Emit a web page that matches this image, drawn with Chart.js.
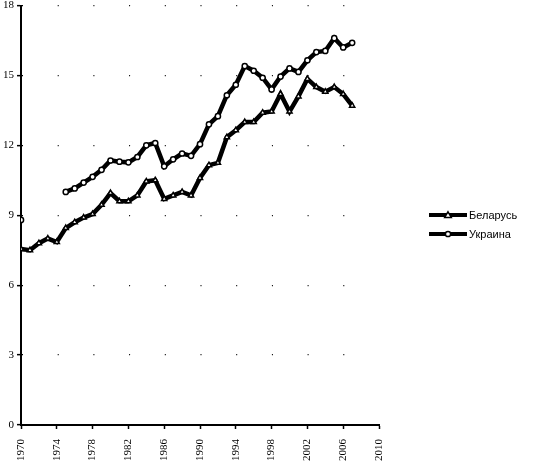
<!DOCTYPE html>
<html>
<head>
<meta charset="utf-8">
<script src="https://cdn.jsdelivr.net/npm/chart.js@4"></script>
<style>
html,body{margin:0;padding:0;background:#fff;}
#wrap{width:533px;height:466px;position:relative;}
</style>
</head>
<body>
<div id="wrap"><canvas id="c" width="533" height="466"></canvas></div>
<script>
const years = [1970,1971,1972,1973,1974,1975,1976,1977,1978,1979,1980,1981,1982,1983,1984,1985,1986,1987,1988,1989,1990,1991,1992,1993,1994,1995,1996,1997,1998,1999,2000,2001,2002,2003,2004,2005,2006,2007];
const belarus = [7.55,7.5,7.8,8.0,7.85,8.45,8.7,8.9,9.05,9.45,9.95,9.6,9.6,9.85,10.45,10.5,9.7,9.85,10.0,9.85,10.6,11.15,11.25,12.35,12.65,13.0,13.0,13.4,13.45,14.2,13.45,14.1,14.85,14.5,14.3,14.5,14.2,13.7];
const ukraine = [8.8,null,null,null,null,10.0,10.15,10.4,10.65,10.95,11.35,11.3,11.27,11.5,12.0,12.1,11.1,11.4,11.65,11.55,12.05,12.9,13.25,14.15,14.6,15.4,15.2,14.9,14.4,14.95,15.3,15.15,15.65,16.0,16.05,16.6,16.2,16.4];
const seriesNames = ['Беларусь','Украина'];
const xMin = 1970, xMax = 2010, xStep = 4;
const yMin = 0, yMax = 18, yStep = 3;

function pts(vals){ return years.map((y,i)=>({x:y,y:vals[i]})); }

const legendPlugin = {
  id:'customLegend',
  afterDraw(chart){
    const ctx = chart.ctx;
    const items = [
      {label:seriesNames[0], style:'triangle', y:215},
      {label:seriesNames[1], style:'circle', y:234}
    ];
    ctx.save();
    items.forEach(it=>{
      ctx.strokeStyle='#000'; ctx.lineWidth=4; ctx.lineCap='butt';
      ctx.beginPath(); ctx.moveTo(429,it.y); ctx.lineTo(467,it.y); ctx.stroke();
      ctx.fillStyle='#fff'; ctx.strokeStyle='#000'; ctx.lineWidth=1.5;
      ctx.beginPath();
      if(it.style==='circle'){ ctx.arc(448,it.y,2.6,0,Math.PI*2); }
      else { ctx.moveTo(448,it.y-3.2); ctx.lineTo(451.3,it.y+2.4); ctx.lineTo(444.7,it.y+2.4); ctx.closePath(); }
      ctx.fill(); ctx.stroke();
      ctx.fillStyle='#000'; ctx.font='11px "Liberation Sans", Arial, sans-serif';
      ctx.textBaseline='middle'; ctx.textAlign='left';
      ctx.fillText(it.label,469,it.y+0.5);
    });
    ctx.restore();
  }
};

new Chart(document.getElementById('c'),{
  type:'line',
  data:{datasets:[
    {label:seriesNames[0],data:pts(belarus),borderColor:'#000',borderWidth:4.5,pointStyle:'triangle',pointRadius:3,pointBackgroundColor:'#fff',pointBorderColor:'#000',pointBorderWidth:1.5,tension:0,spanGaps:false},
    {label:seriesNames[1],data:pts(ukraine),borderColor:'#000',borderWidth:4.5,pointStyle:'circle',pointRadius:2.6,pointBackgroundColor:'#fff',pointBorderColor:'#000',pointBorderWidth:1.5,tension:0,spanGaps:false}
  ]},
  options:{
    responsive:false,animation:false,
    layout:{padding:{left:0,right:154,top:5,bottom:0}},
    plugins:{legend:{display:false},tooltip:{enabled:false}},
    scales:{
      x:{type:'linear',min:xMin,max:xMax,
        afterFit(scale){ scale.height = 41; },
        ticks:{stepSize:xStep,minRotation:90,maxRotation:90,color:'#000',padding:10,font:{family:'"Liberation Serif", serif',size:11},callback:v=>String(v)},
        grid:{display:true,drawOnChartArea:false,drawTicks:true,tickLength:4,tickColor:'#000',tickWidth:1.5},
        border:{display:true,color:'#000',width:2}},
      y:{min:yMin,max:yMax,
        afterFit(scale){ scale.paddingTop = 0; scale.paddingBottom = 0; },
        ticks:{stepSize:yStep,color:'#000',padding:3,font:{family:'"Liberation Serif", serif',size:11}},
        grid:{display:true,drawOnChartArea:true,color:'#000',lineWidth:1.3,tickLength:4,tickColor:'#000',tickWidth:1.5,tickBorderDash:[]},
        border:{display:true,color:'#000',width:2,dash:[1,34.7]}}
    }
  },
  plugins:[legendPlugin]
});
</script>
</body>
</html>
